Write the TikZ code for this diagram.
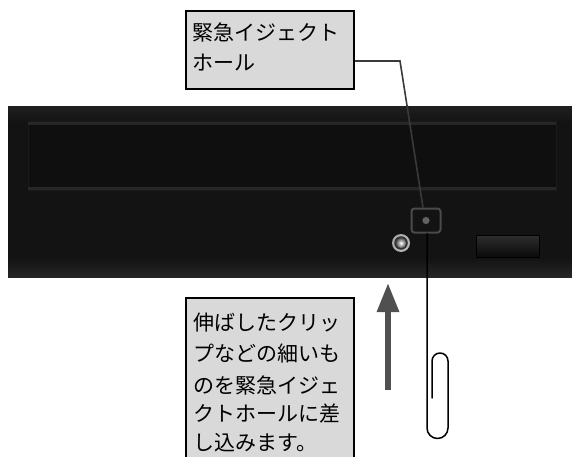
\documentclass[tikz,border=0pt]{standalone}
\usepackage{fontspec}
\newfontfamily\jpfont{Noto Sans CJK JP}
\usetikzlibrary{arrows.meta,calc}
\definecolor{boxgray}{HTML}{D9D9D9}
\definecolor{bodyblack}{HTML}{131313}
\definecolor{panelblack}{HTML}{0F0F0F}
\definecolor{panelrim}{HTML}{262626}
\definecolor{paneledge}{HTML}{1B1B1B}
\definecolor{holerim}{HTML}{4A4A4A}
\definecolor{leadergray}{HTML}{3A3A3A}
\definecolor{arrowgray}{HTML}{505050}

\begin{document}
\begin{tikzpicture}[x=1pt,y=-1pt,
  labelbox/.style={draw=black, line width=2pt, fill=boxgray, inner sep=0pt, anchor=north west},
  labeltext/.style={anchor=base west, inner sep=0pt, font=\jpfont\fontsize{21pt}{30pt}\selectfont},
  ejectbox/.style={draw=holerim, line width=2pt, rounded corners=3pt, minimum width=29pt, minimum height=24pt, inner sep=0pt},
  leader/.style={draw=leadergray, line width=1.6pt},
  wire/.style={draw=black, line width=1.5pt, line cap=round, line join=round}]
\useasboundingbox (0,0) rectangle (572,457);
\clip (0,0) rectangle (572,457);
\fill[white] (0,0) rectangle (572,457);

% drive front panel
\fill[bodyblack] (8,107) rectangle (572,277);
\shade[top color=black!88, bottom color=bodyblack] (8,107) rectangle (572,122);
\shade[top color=bodyblack, bottom color=black!85] (8,258) rectangle (572,277);
% disc tray slot
\filldraw[fill=panelblack, draw=paneledge, line width=1pt] (28,122) rectangle (556,190);
\fill[panelrim] (28,122) rectangle (556,125);
\fill[panelrim] (28,187) rectangle (556,190);

% open/close button
\shade[top color=black!82, bottom color=black!96] (476,235) rectangle (539,257);
\draw[black, line width=1pt] (476,235) rectangle (539,257);

% activity light
\shade[inner color=white, outer color=black!35] (401,243) circle[radius=9];
\fill[black!80] (401,243) circle[radius=6.8];
\shade[inner color=white, outer color=black!70] (401,243) circle[radius=5.2];

% emergency eject hole
\node[ejectbox] (hole) at (426,220.5) {};
\fill[black!62] (hole.center) circle[radius=3.6];

% label: eject hole
\node[labelbox, minimum width=168pt, minimum height=78pt] (holelabel) at (185,10) {};
\node[labeltext] (hl1) at (192,41) {緊急イジェクト};
\node[labeltext] (hl2) at (192,71) {ホール};
\coordinate (bend) at (400,61);
\draw[leader] (holelabel.east |- bend) -- (bend) -- ([xshift=-3pt]hole.north);

% label: instructions
\node[labelbox, minimum width=168pt, minimum height=175pt] (howto) at (185,297) {};
\node[labeltext] (ht1) at (193,330) {伸ばしたクリッ};
\node[labeltext] (ht2) at (193,361) {プなどの細いも};
\node[labeltext] (ht3) at (193,393) {のを緊急イジェ};
\node[labeltext] (ht4) at (193,421) {クトホールに差};
\node[labeltext] (ht5) at (193,450) {し込みます。};

% push direction
\coordinate (pushstart) at (388,390);
\coordinate (pushend) at (388,283);
\draw[arrowgray, line width=6pt, -{Triangle[length=29pt, width=21pt]}] (pushstart) -- (pushend);

% straightened paper clip
\draw[wire] ([xshift=1pt]hole.south) -- (427,428)
  arc[start angle=180, end angle=0, radius=10.5] -- (448,361)
  arc[start angle=0, end angle=-180, radius=8] -- (432,398);
\end{tikzpicture}
\end{document}
